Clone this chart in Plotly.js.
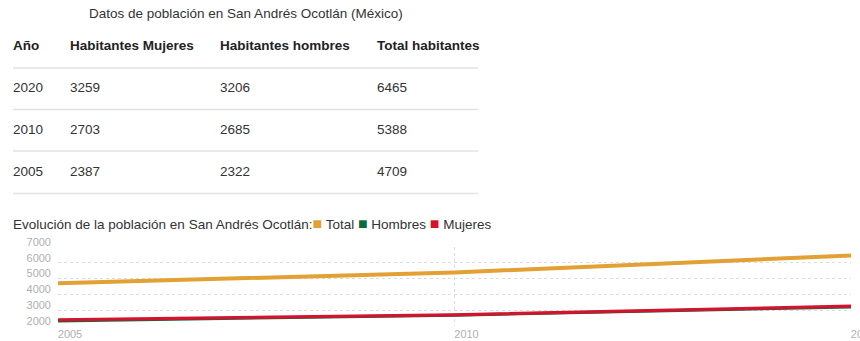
<!DOCTYPE html>
<html>
<head>
<meta charset="utf-8">
<script src="https://cdn.plot.ly/plotly-3.0.1.min.js"></script>
<style>
  html, body { margin: 0; padding: 0; background: #fff; }
  #chart { width: 860px; height: 341px; }
</style>
</head>
<body>
<div id="chart"></div>
<script>
// ---- data ----
const anios = ['2005', '2010', '2020'];
const mujeres = [2387, 2703, 3259];
const hombres = [2322, 2685, 3206];
const total = [4709, 5388, 6465];
const tableHeaders = ['Año', 'Habitantes Mujeres', 'Habitantes hombres', 'Total habitantes'];
const tableTitle = 'Datos de población en San Andrés Ocotlán (México)';
const chartTitle = 'Evolución de la población en San Andrés Ocotlán:';
const seriesNames = ['Total', 'Hombres', 'Mujeres'];
const seriesColors = ['#e3a034', '#0b6b3c', '#d2142e'];

// ---- helpers (pixel -> paper) ----
const W = 860, H = 341;
const px = v => v / W;
const py = v => 1 - v / H;

const FONT = 'Liberation Sans, Arial, Helvetica, sans-serif';
const FS = 13.5;

// table rows shown newest first
const order = [2, 1, 0];
const tableCols = [
  order.map(i => anios[i]),
  order.map(i => mujeres[i]),
  order.map(i => hombres[i]),
  order.map(i => total[i])
];

const tableTrace = {
  type: 'table',
  domain: { x: [px(5), px(529)], y: [py(199), py(32)] },
  columnwidth: [57, 150, 157, 160],
  header: {
    values: tableHeaders,
    align: 'left',
    height: 42,
    line: { width: 0, color: 'rgba(0,0,0,0)' },
    fill: { color: 'rgba(0,0,0,0)' },
    font: { family: FONT, size: FS, color: '#222', weight: 'bold' }
  },
  cells: {
    values: tableCols,
    align: 'left',
    height: 42,
    line: { width: 0, color: 'rgba(0,0,0,0)' },
    fill: { color: 'rgba(0,0,0,0)' },
    font: { family: FONT, size: FS, color: '#333' }
  }
};

const seriesData = [total, hombres, mujeres];
const widths = [4, 3, 3.2];
const lineTraces = seriesData.map((ys, k) => ({
  type: 'scatter',
  mode: 'lines',
  x: anios,
  y: ys,
  name: seriesNames[k],
  line: { color: seriesColors[k], width: widths[k] },
  showlegend: false,
  hoverinfo: 'skip'
}));

// separators under header and each row
const sepY = [68, 109.5, 151, 193.5];
const shapes = sepY.map(y => ({
  type: 'line', xref: 'paper', yref: 'paper',
  x0: px(13), x1: px(478), y0: py(y), y1: py(y),
  line: { color: '#e2e2e2', width: 1.3 }
}));

const legendText = seriesNames.map((n, k) =>
  `<span style="color:${seriesColors[k]};font-size:16px">■</span> ${n}`).join(' ');

const layout = {
  width: W, height: H,
  margin: { l: 0, r: 0, t: 0, b: 0 },
  paper_bgcolor: '#fff',
  plot_bgcolor: '#fff',
  showlegend: false,
  font: { family: FONT, color: '#333' },
  title: {
    text: chartTitle + legendText,
    x: px(13), xanchor: 'left', xref: 'paper',
    y: py(224), yanchor: 'middle', yref: 'paper',
    font: { family: FONT, size: FS, color: '#333' }
  },
  annotations: [{
    text: tableTitle,
    xref: 'paper', yref: 'paper',
    x: px(246), y: py(14), xanchor: 'center', yanchor: 'middle',
    showarrow: false,
    font: { family: FONT, size: FS, color: '#333' }
  }],
  shapes: shapes,
  xaxis: {
    type: 'category',
    domain: [px(58), px(851)],
    range: [0, 2],
    showgrid: true,
    gridcolor: '#dcdcdc',
    griddash: 'dot',
    gridwidth: 1,
    zeroline: false,
    showline: false,
    ticks: '',
    tickfont: { family: FONT, size: 11, color: '#b0b0b0' },
    ticklabelshift: 12,
    fixedrange: true
  },
  yaxis: {
    domain: [py(326), py(247)],
    range: [2000, 7000],
    dtick: 1000,
    tick0: 0,
    showgrid: true,
    gridcolor: '#dcdcdc',
    griddash: 'dot',
    gridwidth: 1,
    zeroline: false,
    showline: false,
    ticks: '',
    tickformat: 'd',
    tickfont: { family: FONT, size: 11, color: '#b0b0b0' },
    ticklabelshift: -5,
    ticklabelstandoff: 6,
    fixedrange: true
  }
};

Plotly.newPlot('chart', [tableTrace, ...lineTraces], layout, { displayModeBar: false, staticPlot: true });
</script>
</body>
</html>
